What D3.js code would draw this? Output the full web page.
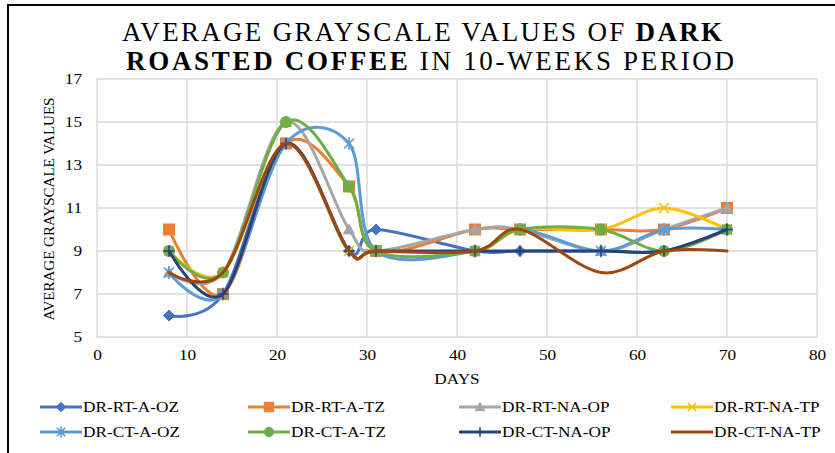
<!DOCTYPE html>
<html><head><meta charset="utf-8">
<script src="https://cdn.jsdelivr.net/npm/d3@7"></script>
<style>body{margin:0;background:#fff}svg{display:block}text{font-family:"Liberation Serif","Times New Roman",serif;fill:#000}</style>
</head><body>
<script>
const days = [8, 14, 21, 28, 31, 42, 47, 56, 63, 70];
const seriesNames = ["DR-RT-A-OZ","DR-RT-A-TZ","DR-RT-NA-OP","DR-RT-NA-TP","DR-CT-A-OZ","DR-CT-A-TZ","DR-CT-NA-OP","DR-CT-NA-TP"];
const drRtAOz  = [6, 7, 14, 9, 10, 9, 9, 9, 9, 10];
const drRtATz  = [10, 7, 14, 12, 9, 10, 10, 10, 10, 11];
const drRtNaOp = [8, 8, 15, 10, 9, 10, 10, 9, 10, 11];
const drRtNaTp = [9, 8, 14, 9, 9, 9, 10, 10, 11, 10];
const drCtAOz  = [8, 7, 14, 14, 9, 9, 10, 9, 10, 10];
const drCtATz  = [9, 8, 15, 12, 9, 9, 10, 10, 9, 10];
const drCtNaOp = [9, 7, 14, 9, 9, 9, 9, 9, 9, 10];
const drCtNaTp = [8, 8, 14, 9, 9, 9, 10, 8, 9, 9];
const seriesValues = [drRtAOz, drRtATz, drRtNaOp, drRtNaTp, drCtAOz, drCtATz, drCtNaOp, drCtNaTp];
const colors = ["#4472C4","#ED7D31","#A5A5A5","#FFC000","#5B9BD5","#70AD47","#264478","#9E480E"];
const markers = ["diamond","square","triangle","x","star","circle","plus","none"];
const xTicks = [0,10,20,30,40,50,60,70,80];
const yTicks = [5,7,9,11,13,15,17];

const W = 835, H = 453;
const svg = d3.select("body").append("svg").attr("width", W).attr("height", H);
const x = d3.scaleLinear().domain([0, 80]).range([97, 817]);
const y = d3.scaleLinear().domain([5, 17]).range([337, 79]);
const SX = 1.15;

// outer frame (left + top)
svg.append("path").attr("d", `M8,${H} L8,5 L${W},5`).attr("fill","none").attr("stroke","#000").attr("stroke-width",2);

// title
const title = svg.append("g").attr("font-size", 27);
const t1 = title.append("text").attr("x", 122).attr("y", 41).attr("textLength", 600).attr("lengthAdjust","spacing");
t1.append("tspan").text("AVERAGE GRAYSCALE VALUES OF ");
t1.append("tspan").attr("font-weight","bold").text("DARK");
const t2 = title.append("text").attr("x", 126).attr("y", 70).attr("textLength", 608).attr("lengthAdjust","spacing");
t2.append("tspan").attr("font-weight","bold").text("ROASTED COFFEE");
t2.append("tspan").text(" IN 10-WEEKS PERIOD");

// grid
const grid = svg.append("g").attr("stroke","#D9D9D9").attr("stroke-width",1.4);
xTicks.forEach(t => grid.append("line").attr("x1", x(t)).attr("x2", x(t)).attr("y1", y(17)).attr("y2", y(5)));
yTicks.forEach(t => grid.append("line").attr("x1", x(0)).attr("x2", x(80)).attr("y1", y(t)).attr("y2", y(t)));

// axes (labels only)
const xAxis = d3.axisBottom(x).tickValues(xTicks).tickSize(0).tickPadding(12);
const gx = svg.append("g").attr("transform", `translate(0,${y(5)})`).call(xAxis);
gx.select(".domain").remove();
gx.selectAll("text").attr("font-size", 15).attr("font-family","Liberation Serif").attr("fill","#000");
const yAxis = d3.axisLeft(y).tickValues(yTicks).tickSize(0).tickPadding(15);
const gy = svg.append("g").attr("transform", `translate(${x(0)},0)`).call(yAxis);
gy.select(".domain").remove();
gy.selectAll("text").attr("font-size", 15).attr("font-family","Liberation Serif").attr("fill","#000");
gx.selectAll(".tick text").attr("transform", `scale(${SX},1)`);
gy.selectAll(".tick text").attr("transform", `scale(${SX},1)`).attr("x", -15/SX);

svg.append("text").attr("transform", `translate(457,384) scale(${SX},1)`).attr("text-anchor","middle").attr("font-size",15).text("DAYS");
svg.append("text").attr("transform", `translate(54,209) rotate(-90)`).attr("text-anchor","middle").attr("font-size",15).text("AVERAGE GRAYSCALE VALUES");

// marker drawing
function drawMarker(g, type, cx, cy, color, s) {
  s = s || 1;
  if (type === "diamond") {
    const r = 5.5*s;
    g.append("path").attr("d", `M${cx},${cy-r}L${cx+r},${cy}L${cx},${cy+r}L${cx-r},${cy}Z`).attr("fill", color).attr("stroke", color);
  } else if (type === "square") {
    const r = 5.5*s;
    g.append("rect").attr("x", cx-r).attr("y", cy-r).attr("width", 2*r).attr("height", 2*r).attr("fill", color).attr("stroke", color);
  } else if (type === "triangle") {
    const r = 5.5*s;
    g.append("path").attr("d", `M${cx},${cy-r}L${cx+r},${cy+r*0.8}L${cx-r},${cy+r*0.8}Z`).attr("fill", color).attr("stroke", color);
  } else if (type === "circle") {
    g.append("circle").attr("cx", cx).attr("cy", cy).attr("r", 5.5*s).attr("fill", color).attr("stroke", color);
  } else if (type === "x") {
    const r = 5*s;
    g.append("path").attr("d", `M${cx-r},${cy-r}L${cx+r},${cy+r}M${cx+r},${cy-r}L${cx-r},${cy+r}`).attr("stroke", color).attr("stroke-width", 1.6).attr("fill","none");
  } else if (type === "star") {
    const r = 5*s;
    g.append("path").attr("d", `M${cx-r},${cy-r}L${cx+r},${cy+r}M${cx+r},${cy-r}L${cx-r},${cy+r}M${cx},${cy-r*1.3}L${cx},${cy+r*1.3}`).attr("stroke", color).attr("stroke-width", 1.6).attr("fill","none");
  } else if (type === "plus") {
    const r = 5.5*s;
    g.append("path").attr("d", `M${cx-r},${cy}L${cx+r},${cy}M${cx},${cy-r}L${cx},${cy+r}`).attr("stroke", color).attr("stroke-width", 1.6).attr("fill","none");
  }
}

// series
const line = d3.line().x(d => x(d[0])).y(d => y(d[1])).curve(d3.curveCatmullRom.alpha(0));
const plot = svg.append("g");
seriesValues.forEach((vals, i) => {
  const pts = days.map((d, j) => [d, vals[j]]);
  const g = plot.append("g");
  g.append("path").attr("d", line(pts)).attr("fill","none").attr("stroke", colors[i]).attr("stroke-width", 3).attr("stroke-linecap","round");
  pts.forEach(p => drawMarker(g, markers[i], x(p[0]), y(p[1]), colors[i]));
});

// legend
const legX = [40, 248, 459, 671];
const legY = [407, 432];
const leg = svg.append("g");
seriesNames.forEach((name, i) => {
  const lx = legX[i % 4], ly = legY[Math.floor(i / 4)];
  const g = leg.append("g");
  g.append("line").attr("x1", lx).attr("x2", lx + 42).attr("y1", ly).attr("y2", ly).attr("stroke", colors[i]).attr("stroke-width", 3);
  drawMarker(g, markers[i], lx + 21, ly, colors[i], 0.85);
  g.append("text").attr("transform", `translate(${lx + 43},${ly + 5}) scale(${SX},1)`).attr("font-size", 15).text(name);
});
</script>
</body></html>
